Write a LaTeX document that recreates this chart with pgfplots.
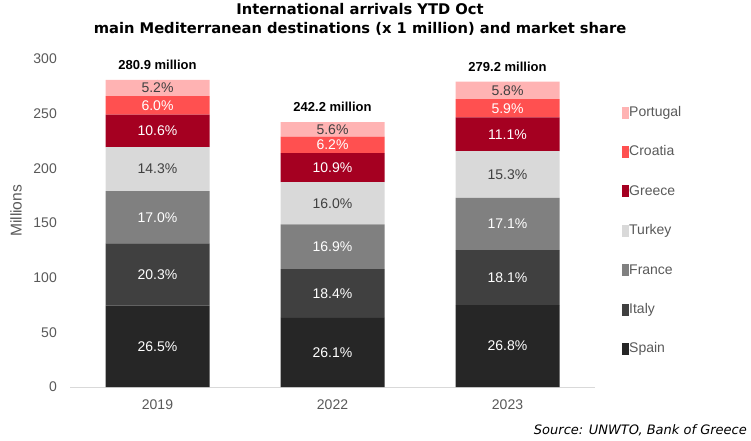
\documentclass[border=0pt]{standalone}
\usepackage{pgfplots}
\usepackage{pgfplotstable}
\pgfplotsset{compat=1.18}
\usepackage{fontspec}
\setmainfont{Liberation Sans}
\newfontfamily\verdana{DejaVu Sans}
\definecolor{cSpain}{HTML}{262626}
\definecolor{cItaly}{HTML}{404040}
\definecolor{cFrance}{HTML}{808080}
\definecolor{cTurkey}{HTML}{D9D9D9}
\definecolor{cGreece}{HTML}{A50021}
\definecolor{cCroatia}{HTML}{FF5050}
\definecolor{cPortugal}{HTML}{FFB3B3}
\definecolor{ctext}{HTML}{595959}
\definecolor{cdark}{HTML}{404040}

% arrivals, millions
\pgfplotstableread{
x Spain Italy France Turkey Greece Croatia Portugal
0 74.4 57.0 47.8 40.2 29.8 16.9 14.8
1 63.2 44.6 40.9 38.8 26.4 15.0 13.3
2 74.8 50.5 47.7 42.7 31.0 16.5 16.0
}\bars

% label positions (segment midpoints) and market shares
\pgfplotstableread{
x ySpain sSpain yItaly sItaly yFrance sFrance yTurkey sTurkey yGreece sGreece yCroatia sCroatia yPortugal sPortugal total
0 37.2 26.5 102.9 20.3 155.3 17.0 199.3 14.3 234.3 10.6 257.65 6.0 273.5 5.2 280.9
1 31.6 26.1 85.5 18.4 128.25 16.9 168.1 16.0 200.7 10.9 221.4 6.2 235.55 5.6 242.2
2 37.4 26.8 100.05 18.1 149.15 17.1 194.35 15.3 231.2 11.1 254.95 5.9 271.2 5.8 279.2
}\labels

\pgfplotsset{
  common/.style={
    at={(70pt,-387pt)}, anchor=south west,
    scale only axis, width=525pt, height=328pt,
    xmin=-0.5, xmax=2.5, ymin=0, ymax=300,
  },
  pct/.style={
    only marks, mark=*, mark size=0pt, mark options={draw=none,fill=none},
    point meta=explicit,
    nodes near coords={\pgfmathprintnumber[fixed,fixed zerofill,precision=1]{\pgfplotspointmeta}\%},
    every node near coord/.append style={anchor=center, font=\fontsize{14}{16}\selectfont, text=#1, inner sep=0pt},
  },
}

\begin{document}
\begin{tikzpicture}[x=1pt,y=1pt]
\path[use as bounding box] (0,0) rectangle (751,-440);
\begin{axis}[
  common,
  ybar stacked, bar width=104pt,
  axis x line*=bottom, axis y line*=left,
  x axis line style={draw=cTurkey, line width=0.8pt},
  y axis line style={draw=none},
  major tick length=0pt,
  xtick={0,1,2}, xticklabels={2019,2022,2023},
  ytick={0,50,...,300},
  /pgf/number format/assume math mode=true,
  tick label style={font=\fontsize{14}{16}\selectfont, text=ctext, inner sep=0pt},
  yticklabel style={xshift=-13pt},
  xticklabel style={yshift=-13pt},
  every axis y label/.style={at={(axis description cs:-0.1030,0.537)}, rotate=90, anchor=center, font=\fontsize{15.6}{18}\selectfont, text=ctext},
  ylabel={Millions},
  reverse legend,
  legend image code/.code={\path (0pt,-6pt) rectangle (7pt,6pt); \fill[#1] (0pt,-2.5pt) rectangle (7pt,4.5pt);},
  legend style={draw=none, fill=none, at={(axis description cs:1.0457,0.8648)}, anchor=north west,
    font=\fontsize{14}{16}\selectfont, text=ctext, row sep=25.4pt,
    nodes={inner sep=0pt, text height=11pt, text depth=3pt},
    /tikz/every even column/.append style={column sep=2.5pt}},
  legend cell align=left,
]
\addplot[fill=cSpain, draw=none] table[x=x, y=Spain] {\bars};
\addplot[fill=cItaly, draw=none] table[x=x, y=Italy] {\bars};
\addplot[fill=cFrance, draw=none] table[x=x, y=France] {\bars};
\addplot[fill=cTurkey, draw=none] table[x=x, y=Turkey] {\bars};
\addplot[fill=cGreece, draw=none] table[x=x, y=Greece] {\bars};
\addplot[fill=cCroatia, draw=none] table[x=x, y=Croatia] {\bars};
\addplot[fill=cPortugal, draw=none] table[x=x, y=Portugal] {\bars};
\legend{Spain,Italy,France,Turkey,Greece,Croatia,Portugal}
\end{axis}
\begin{axis}[
  common, hide axis,
  /pgf/number format/assume math mode=true,
]
\addplot[pct=white] table[x=x, y=ySpain, meta=sSpain] {\labels};
\addplot[pct=white] table[x=x, y=yItaly, meta=sItaly] {\labels};
\addplot[pct=white] table[x=x, y=yFrance, meta=sFrance] {\labels};
\addplot[pct=cdark] table[x=x, y=yTurkey, meta=sTurkey] {\labels};
\addplot[pct=white] table[x=x, y=yGreece, meta=sGreece] {\labels};
\addplot[pct=white] table[x=x, y=yCroatia, meta=sCroatia] {\labels};
\addplot[pct=cdark] table[x=x, y=yPortugal, meta=sPortugal] {\labels};
\addplot[only marks, mark=*, mark size=0pt, mark options={draw=none,fill=none},
  point meta=explicit,
  nodes near coords={\pgfmathprintnumber[fixed,fixed zerofill,precision=1]{\pgfplotspointmeta} million},
  every node near coord/.append style={anchor=base, yshift=10.5pt, font=\bfseries\fontsize{13}{15}\selectfont, text=black, inner sep=0pt},
] table[x=x, y=total, meta=total] {\labels};
\end{axis}
\node[align=center, font=\verdana\bfseries\fontsize{14.7}{18.5}\selectfont, anchor=center] at (360,-19.5)
  {International arrivals YTD Oct\\main Mediterranean destinations (x 1 million) and market share};
\node[anchor=east, font=\verdana\itshape\fontsize{13}{15}\selectfont, text=black, inner sep=0pt] at (747,-430)
  {Source: UNWTO, Bank of Greece};
\end{tikzpicture}
\end{document}
